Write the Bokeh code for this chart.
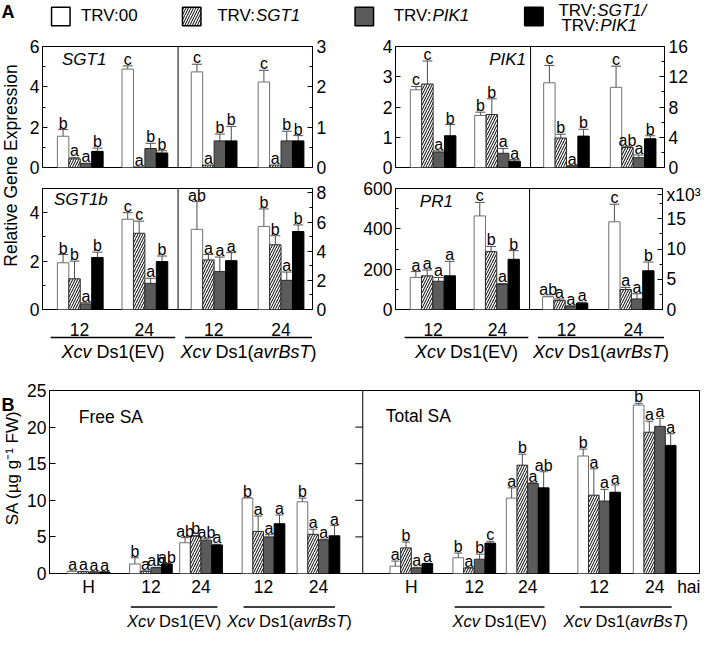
import math
from bokeh.plotting import figure
from bokeh.models import (Range1d, LinearAxis, FixedTicker, ColumnDataSource, Whisker, TeeHead,
                          Span, LabelSet, CustomJSTickFormatter)
from bokeh.layouts import row, column
from bokeh.embed import file_html
from bokeh.resources import INLINE
from bokeh.core.properties import value

# ---------------------------------------------------------------- data
SERIES = ["TRV:00", "TRV:SGT1", "TRV:PIK1", "TRV:SGT1/TRV:PIK1"]
A_TIMES = ["12", "24", "12", "24"]          # clusters: EV 12, EV 24, avrBsT 12, avrBsT 24
B_TIMES = ["H", "12", "24", "12", "24"]     # clusters: H, EV 12, EV 24, avrBsT 12, avrBsT 24

# Panel A (first two clusters on left axis, last two on right axis)
SGT1_MEAN = [[1.55, 0.43, 0.19, 0.80], [4.88, 0.03, 0.94, 0.72], [2.37, 0.06, 0.66, 0.66], [2.12, 0.06, 0.66, 0.66]]
SGT1_ERR = [[0.33, 0.07, 0.02, 0.16], [0.16, 0.0, 0.26, 0.11], [0.19, 0.0, 0.17, 0.36], [0.29, 0.0, 0.24, 0.13]]
SGT1_SIG = [["b", "a", "a", "b"], ["c", "a", "b", "b"], ["c", "a", "b", "b"], ["c", "a", "b", "b"]]

PIK1_MEAN = [[2.57, 2.76, 0.51, 1.05], [1.72, 1.75, 0.47, 0.21], [11.2, 3.9, 0.2, 4.15], [10.6, 2.65, 1.3, 3.8]]
PIK1_ERR = [[0.11, 0.76, 0.04, 0.37], [0.11, 0.52, 0.16, 0.05], [2.3, 0.5, 0.05, 0.9], [2.8, 0.1, 0.35, 0.4]]
PIK1_SIG = [["c", "c", "a", "b"], ["b", "b", "a", "a"], ["c", "b", "a", "b"], ["c", "ab", "a", "b"]]

SGT1B_MEAN = [[1.93, 1.27, 0.23, 2.15], [3.73, 3.15, 1.08, 1.98], [5.5, 3.4, 2.6, 3.35], [5.7, 4.44, 2.0, 5.35]]
SGT1B_ERR = [[0.34, 0.73, 0.05, 0.22], [0.27, 0.5, 0.21, 0.23], [1.9, 0.37, 1.0, 0.55], [1.2, 0.62, 0.57, 0.45]]
SGT1B_SIG = [["b", "b", "a", "b"], ["c", "c", "a", "b"], ["ab", "a", "a", "a"], ["b", "b", "a", "b"]]

PR1_MEAN = [[159, 167, 140, 167], [464, 287, 124, 249], [2.1, 1.5, 0.55, 1.05], [14.5, 3.3, 1.75, 6.4]]
PR1_ERR = [[29, 29, 19, 72], [67, 26, 5, 43], [0.1, 0.25, 0.05, 0.15], [2.9, 0.35, 0.85, 1.45]]
PR1_SIG = [["a", "a", "a", "a"], ["c", "b", "a", "b"], ["ab", "a", "a", "a"], ["c", "a", "a", "b"]]
PR1_RIGHT_UNIT = "x10³"

# Panel B
FREE_MEAN = [[0.3, 0.25, 0.2, 0.2], [1.3, 0.3, 0.8, 1.3], [4.2, 5.1, 4.55, 3.9], [10.3, 5.75, 5.0, 6.8], [9.8, 5.35, 4.6, 5.15]]
FREE_ERR = [[0.05, 0.05, 0.03, 0.03], [0.85, 0.05, 0.05, 0.05], [0.7, 0.1, 0.2, 0.1], [0.05, 2.1, 0.3, 1.2], [0.5, 0.7, 0.1, 1.4]]
FREE_SIG = [["a", "a", "a", "a"], ["b", "a", "ab", "ab"], ["ab", "b", "ab", "a"], ["b", "a", "a", "a"], ["b", "a", "a", "a"]]

TOTAL_MEAN = [[1.0, 3.5, 0.75, 1.35], [2.15, 0.75, 1.95, 4.15], [10.3, 14.8, 12.3, 11.7], [16.05, 10.7, 9.9, 11.1], [23.0, 19.3, 20.1, 17.5]]
TOTAL_ERR = [[0.7, 0.8, 0.1, 0.05], [0.65, 0.05, 0.7, 0.25], [1.4, 1.5, 0.1, 2.2], [0.95, 3.6, 1.6, 1.0], [0.25, 1.5, 1.1, 1.6]]
TOTAL_SIG = [["a", "b", "a", "a"], ["b", "a", "b", "c"], ["a", "b", "a", "ab"], ["b", "a", "a", "a"], ["b", "a", "a", "a"]]

# ---------------------------------------------------------------- layout / style
FONT = "Liberation Sans"
FILL = ["white", "white", "#5b5b5b", "black"]
LINE = ["#707070", "#2b2b2b", "#2b2b2b", "black"]
HATCH = [None, "/", None, None]
ERRC = "#4d4d4d"
BAR = 1.0
TICK_FS = "17.5px"
SIG_FS = "16px"

A_XMAX = 23.6
A_POS = [3.3, 8.95, 15.0, 20.85]
A_DIV = 11.85
B_XMAX = 60.9
B_POS = [3.67, 9.5, 14.2, 20.05, 25.2, 33.9, 39.8, 44.8, 51.5, 56.7]
B_DIV = 29.35
B_HAI = 59.9

GROUP_PARTS = [
    [("Xcv", True), (" ", False), ("Ds1(EV)", False)],
    [("Xcv", True), (" ", False), ("Ds1(", False), ("avrBsT", True), (")", False)],
]

CW = {' ': 278, '(': 333, ')': 333, '/': 278, ':': 278, '.': 278, 'A': 667, 'B': 667, 'D': 722, 'E': 667,
      'F': 611, 'G': 778, 'H': 722, 'I': 278, 'K': 667, 'P': 667, 'R': 722, 'S': 667, 'T': 611, 'V': 667,
      'X': 667, 'a': 556, 'b': 556, 'c': 500, 'e': 556, 'g': 556, 'h': 556, 'i': 222, 'l': 222, 'n': 556,
      'o': 556, 'p': 556, 'r': 333, 's': 500, 't': 278, 'v': 500, 'x': 500}


def tw(s, size):
    return sum(CW.get(c, 556) for c in s) * size / 1000.0


def draw_runs(p, x, y, parts, size, anchor="center"):
    total = sum(tw(t, size) for t, _ in parts)
    off = -total / 2.0 if anchor == "center" else 0.0
    for t, it in parts:
        if t.strip():
            p.text(x=[x], y=[y], text=[t], x_offset=off, text_align="left", text_baseline="middle",
                   text_font=value(FONT), text_font_size=f"{size}px",
                   text_font_style="italic" if it else "normal", text_color="black")
        off += tw(t, size)


def deco(w, h, xr=None):
    f = figure(width=w, height=h, x_range=xr if xr is not None else Range1d(0, w), y_range=Range1d(0, h),
               x_axis_location=None, y_axis_location=None, toolbar_location=None,
               output_backend="svg", min_border=0, outline_line_color=None)
    f.grid.visible = False
    return f


def style_axis(ax, ticks, minor, size=TICK_FS, standoff=3):
    ax.ticker = FixedTicker(ticks=ticks, minor_ticks=minor)
    ax.major_tick_in = 5
    ax.major_tick_out = 0
    ax.minor_tick_in = 3
    ax.minor_tick_out = 0
    ax.major_label_text_font = FONT
    ax.major_label_text_font_size = size
    ax.major_label_text_color = "black"
    ax.major_label_standoff = standoff
    ax.axis_line_color = "black"
    ax.major_tick_line_color = "black"
    ax.minor_tick_line_color = "black"


def draw_cluster_bars(p, positions, mean, err, sig, rn, head):
    for i in range(4):
        xs = [pos + (i - 1.5) * BAR for pos in positions]
        tops = [m[i] for m in mean]
        kw = dict(hatch_pattern="/", hatch_color="black", hatch_scale=5, hatch_weight=1) if HATCH[i] else {}
        p.vbar(x=xs, top=tops, bottom=0, width=BAR, fill_color=FILL[i], line_color=LINE[i],
               line_width=1, y_range_name=rn, **kw)
        ex = [x for x, e in zip(xs, [e[i] for e in err]) if e > 0]
        lo = [m[i] - e[i] for m, e in zip(mean, err) if e[i] > 0]
        hi = [m[i] + e[i] for m, e in zip(mean, err) if e[i] > 0]
        if ex:
            src = ColumnDataSource(dict(x=ex, lo=lo, hi=hi))
            p.add_layout(Whisker(source=src, base="x", lower="lo", upper="hi", y_range_name=rn,
                                 line_color=ERRC, line_width=1,
                                 upper_head=TeeHead(size=head, line_color=ERRC, line_width=1),
                                 lower_head=TeeHead(size=head, line_color=ERRC, line_width=1)))
        lsrc = ColumnDataSource(dict(x=xs, y=[m[i] + e[i] for m, e in zip(mean, err)],
                                     t=[s[i] for s in sig]))
        p.add_layout(LabelSet(x="x", y="y", text="t", source=lsrc, y_range_name=rn,
                              text_align="center", text_baseline="alphabetic", y_offset=1,
                              text_font=value(FONT), text_font_size=SIG_FS, text_color="black"))


def a_panel(mean, err, sig, lrange, rrange, lt, lmin, rt, rmin, w, h, bl, br, bt, bb,
            gene, gx, gy, galign):
    p = figure(width=w, height=h, x_range=Range1d(0, A_XMAX), y_range=Range1d(*lrange),
               x_axis_location=None, y_axis_location="left", toolbar_location=None,
               output_backend="svg", min_border_left=bl, min_border_right=br,
               min_border_top=bt, min_border_bottom=bb, outline_line_color="black")
    p.grid.visible = False
    p.extra_y_ranges = {"r": Range1d(*rrange)}
    rax = LinearAxis(y_range_name="r")
    p.add_layout(rax, "right")
    style_axis(p.yaxis[0], lt, lmin)
    style_axis(rax, rt, rmin, standoff=4)
    p.add_layout(Span(location=A_DIV, dimension="height", line_color="black", line_width=1))
    draw_cluster_bars(p, A_POS[:2], mean[:2], err[:2], sig[:2], "default", 10)
    draw_cluster_bars(p, A_POS[2:], mean[2:], err[2:], sig[2:], "r", 10)
    p.text(x=[gx], y=[gy], text=[gene], text_align=galign, text_baseline="middle",
           text_font=value(FONT), text_font_size="17px", text_font_style="italic", text_color="black")
    return p


# ---------------------------------------------------------------- legend row (703 x 35)
LEG_H = 35
LEG_FS = 17
leg = deco(703, LEG_H)
leg.text(x=[1], y=[LEG_H - 11], text=["A"], text_align="left", text_baseline="middle",
         text_font=value(FONT), text_font_size="18px", text_font_style="bold", text_color="black")
BOX_X = [60.3, 191.2, 363.8, 533.4]
for i in range(4):
    kw = dict(hatch_pattern="/", hatch_color="black", hatch_scale=5, hatch_weight=1) if HATCH[i] else {}
    leg.rect(x=[BOX_X[i]], y=[LEG_H - 16], width=18.5, height=18.5, fill_color=FILL[i],
             line_color="black", line_width=1.5, **kw)
draw_runs(leg, 80.4, LEG_H - 15, [(SERIES[0], False)], LEG_FS, "left")
draw_runs(leg, 216.7, LEG_H - 15, [("TRV:", False), ("SGT1", True)], LEG_FS, "left")
draw_runs(leg, 393.2, LEG_H - 15, [("TRV:", False), ("PIK1", True)], LEG_FS, "left")
draw_runs(leg, 557.9, LEG_H - 9.7, [("TRV:", False), ("SGT1/", True)], LEG_FS, "left")
draw_runs(leg, 560.9, LEG_H - 24.6, [("TRV:", False), ("PIK1", True)], LEG_FS, "left")

# ---------------------------------------------------------------- panel A
ylabA = deco(26, 284)
ylabA.text(x=[10.5], y=[154], text=["Relative Gene Expression"], angle=math.pi / 2,
           text_align="center", text_baseline="middle", text_font=value(FONT),
           text_font_size="17.5px", text_color="black")

p_sgt1 = a_panel(SGT1_MEAN, SGT1_ERR, SGT1_SIG, (0, 6), (0, 3), [0, 2, 4, 6], [1, 3, 5],
                 [0, 1, 2, 3], [0.5, 1.5, 2.5], 326, 143, 15, 40, 11, 11, "SGT1", 1.7, 5.35, "left")
p_pik1 = a_panel(PIK1_MEAN, PIK1_ERR, PIK1_SIG, (0, 4), (0, 16), [0, 1, 2, 3, 4], [],
                 [0, 4, 8, 12, 16], [2, 6, 10, 14], 351, 143, 43, 39, 11, 10, "PIK1", 11.45, 3.57, "right")
p_sgt1b = a_panel(SGT1B_MEAN, SGT1B_ERR, SGT1B_SIG, (0, 5), (0, 8.3), [0, 2, 4], [1, 3, 5],
                  [0, 2, 4, 6, 8], [1, 3, 5, 7], 326, 141, 15, 40, 10, 10, "SGT1b", 1.0, 4.53, "left")
p_pr1 = a_panel(PR1_MEAN, PR1_ERR, PR1_SIG, (0, 600), (0, 20), [0, 200, 400, 600], [100, 300, 500],
                [0, 5, 10, 15, 19.0], [2.5, 7.5, 12.5, 17.5], 351, 141, 43, 39, 10, 10, "PR1", 2.15, 537, "left")
# unit note of the right axis (x10^3) written as the label of its top tick
p_pr1.yaxis[1].formatter = CustomJSTickFormatter(args=dict(u=PR1_RIGHT_UNIT),
                                                 code="return tick > 17.6 ? u : String(tick);")


def group_fig(w, h, frame_left, frame_w, xmax, fig_left, positions, spans, ext, y_time, y_line, y_grp,
              time_labels, time_size, grp_size, with_times=True):
    s = xmax / frame_w
    xr = Range1d((fig_left - frame_left) * s, (fig_left + w - frame_left) * s)
    g = deco(w, h, xr)
    if with_times:
        g.text(x=positions, y=[y_time] * len(positions), text=time_labels, text_align="center",
               text_baseline="middle", text_font=value(FONT), text_font_size=f"{time_size}px",
               text_color="black")
    x0 = [positions[a] - ext[0] for a, b in spans]
    x1 = [positions[b] + ext[1] for a, b in spans]
    g.segment(x0=x0, y0=[y_line] * len(spans), x1=x1, y1=[y_line] * len(spans),
              line_color="black", line_width=1.5)
    for k, (a, b) in enumerate(spans):
        cx = (x0[k] + x1[k]) / 2.0
        draw_runs(g, cx, y_grp, GROUP_PARTS[k % 2], grp_size, "center")
    return g


GA_H = 43
gA_L = group_fig(352, GA_H, 41, 271, A_XMAX, 0, A_POS, [(0, 1), (2, 3)], (2.5, 2.7),
                 GA_H - 10.3, GA_H - 18, GA_H - 32, A_TIMES, 17.5, 18)
gA_R = group_fig(351, GA_H, 395 - 352, 269, A_XMAX, 0, A_POS, [(0, 1), (2, 3)], (2.5, 2.7),
                 GA_H - 10.3, GA_H - 18, GA_H - 32, A_TIMES, 17.5, 18)

# ---------------------------------------------------------------- panel B
B_H = 237
ylabB = deco(24, B_H)
ylabB.text(x=[1], y=[B_H - 18.7], text=["B"], text_align="left", text_baseline="middle",
           text_font=value(FONT), text_font_size="18px", text_font_style="bold", text_color="black")
ylabB.text(x=[12.3], y=[B_H - 100.2], text=["SA (µg g⁻¹ FW)"], angle=math.pi / 2,
           text_align="center", text_baseline="middle", text_font=value(FONT),
           text_font_size="17px", text_color="black")

pB = figure(width=679, height=B_H, x_range=Range1d(0, B_XMAX), y_range=Range1d(0, 25),
            toolbar_location=None, output_backend="svg", min_border_left=24, min_border_right=4,
            min_border_top=28, min_border_bottom=25, outline_line_color="black")
pB.grid.visible = False
style_axis(pB.yaxis[0], [0, 5, 10, 15, 20, 25], [], standoff=3)
pB.yaxis[0].major_tick_in = 6
xt = B_POS + [B_HAI]
xl = B_TIMES + B_TIMES + ["hai"]
xa = pB.xaxis[0]
xa.ticker = FixedTicker(ticks=xt, minor_ticks=[])
xa.formatter = CustomJSTickFormatter(args=dict(t=xt, l=xl), code="""
    let best = -1, bd = 1e9;
    for (let i = 0; i < t.length; i++) { const d = Math.abs(t[i] - tick); if (d < bd) { bd = d; best = i; } }
    return (best >= 0 && bd < 1e-3) ? l[best] : '';
""")
xa.major_tick_in = 0
xa.major_tick_out = 0
xa.minor_tick_in = 0
xa.minor_tick_out = 0
xa.axis_line_color = None
xa.major_label_standoff = 3
xa.major_label_text_font = FONT
xa.major_label_text_font_size = TICK_FS
xa.major_label_text_color = "black"

pB.add_layout(Span(location=B_DIV, dimension="height", line_color="black", line_width=1))
pB.segment(x0=[B_DIV - 0.7] * 4, y0=[5, 10, 15, 20], x1=[B_DIV] * 4, y1=[5, 10, 15, 20],
           line_color="black", line_width=1)
draw_cluster_bars(pB, B_POS[:5], FREE_MEAN, FREE_ERR, FREE_SIG, "default", 8)
draw_cluster_bars(pB, B_POS[5:], TOTAL_MEAN, TOTAL_ERR, TOTAL_SIG, "default", 8)
pB.text(x=[2.75, 31.5], y=[21.4, 21.55], text=["Free SA", "Total SA"], text_align="left",
        text_baseline="middle", text_font=value(FONT), text_font_size="17.5px", text_color="black")

GB_H = 630 - LEG_H - 284 - GA_H - B_H
gB = group_fig(703, GB_H, 48, 651, B_XMAX, 0, B_POS, [(1, 2), (3, 4), (6, 7), (8, 9)], (1.8, 1.6),
               0, GB_H - 7.4, GB_H - 21.5, [], 17, 16.5, with_times=False)

layout = column(
    leg,
    row(ylabA, column(row(p_sgt1, p_pik1), row(p_sgt1b, p_pr1))),
    row(gA_L, gA_R),
    row(ylabB, pB),
    gB,
)

open("out.html", "w").write(file_html(layout, INLINE))
